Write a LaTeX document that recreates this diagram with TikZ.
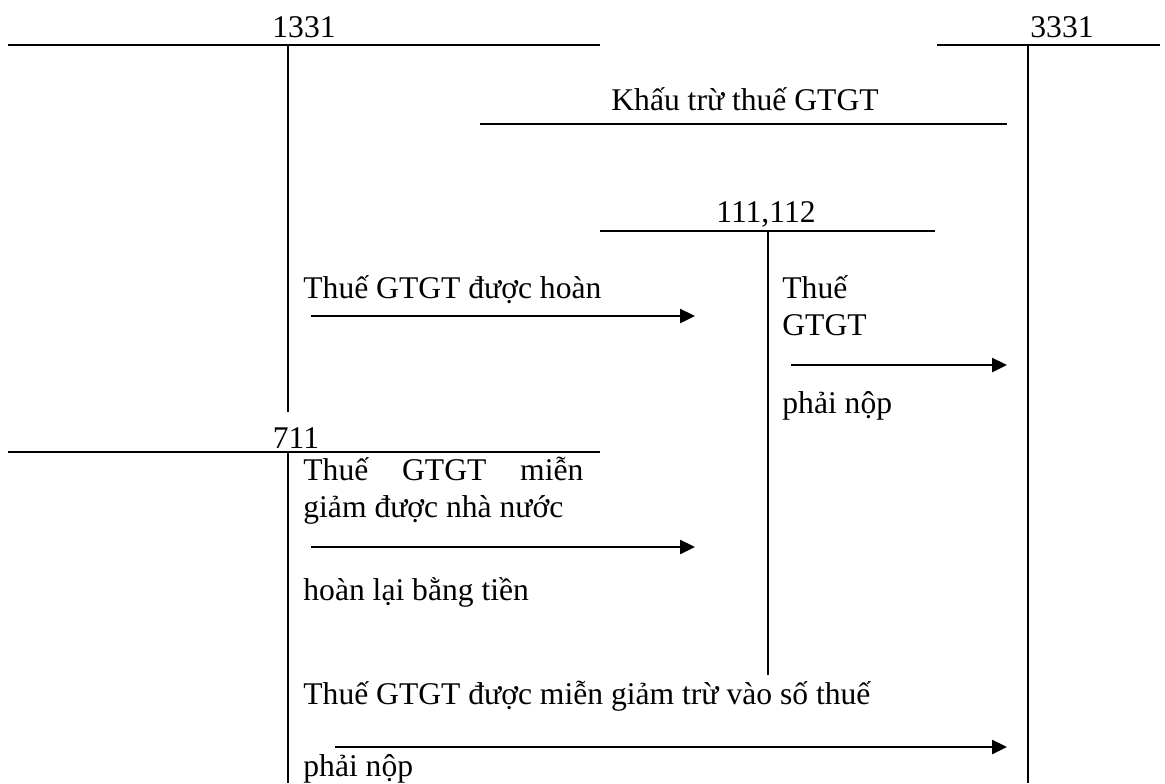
\documentclass[tikz,border=0pt]{standalone}
\usepackage{fontspec}
\setmainfont{Liberation Serif}
\usetikzlibrary{positioning,arrows.meta}

\begin{document}
\begin{tikzpicture}[x=0.5pt, y=-0.5pt, >={Triangle[length=7.5pt,width=7pt]},
  acct/.style={line width=1pt},
  flow/.style={->, line width=1.2pt},
  txt/.style={anchor=base west, inner sep=0pt, font=\fontsize{15.8}{18.5}\selectfont},
  lbl/.style={anchor=base, inner sep=0pt, font=\fontsize{15.8}{18.5}\selectfont}]
\useasboundingbox (0,0) rectangle (1165,783);

% tai khoan
\coordinate (tl1331) at (8,45);   \coordinate (tr1331) at (600,45);
\coordinate (t1331) at (288,45);  \coordinate (b1331) at (288,412);
\coordinate (tl3331) at (937,45); \coordinate (tr3331) at (1160,45);
\coordinate (t3331) at (1028,45); \coordinate (b3331) at (1028,783);
\coordinate (tl111) at (600,231); \coordinate (tr111) at (935,231);
\coordinate (t111) at (768,231);  \coordinate (b111) at (768,675);
\coordinate (tl711) at (8,452);   \coordinate (tr711) at (600,452);
\coordinate (t711) at (288,452);  \coordinate (b711) at (288,783);

\node[lbl] (n1331) at (304,37) {1331};
\node[lbl] (n3331) at (1062,37) {3331};
\node[lbl] (n111) at (766,222) {111,112};
\node[lbl] (n711) at (296,448) {711};

\draw[acct] (tl1331) -- (tr1331) (t1331) -- (b1331);
\draw[acct] (tl3331) -- (tr3331) (t3331) -- (b3331);
\draw[acct] (tl111) -- (tr111) (t111) -- (b111);
\draw[acct] (tl711) -- (tr711) (t711) -- (b711);

% khau tru
\node[lbl] (ktru) at (745,110) {Khấu trừ thuế GTGT};
\coordinate (ks) at (480,124); \coordinate (ke) at (1007,124);
\draw[acct, line width=1.2pt] (ks) -- (ke);

% duoc hoan
\node[txt] (hoan) at (303,298) {Thuế GTGT được hoàn};
\coordinate (hs) at (311,316); \coordinate (he) at (695,316);
\draw[flow] (hs) -- (he);

% phai nop
\node[txt] (nop1) at (782,298) {Thuế};
\node[txt] (nop2) at (782,335) {GTGT};
\node[txt] (nop3) at (782,413) {phải nộp};
\coordinate (ps) at (791,365); \coordinate (pe) at (1007,365);
\draw[flow] (ps) -- (pe);

% mien giam hoan lai
\node[txt] (mg1) at (303,480) {\makebox[140pt][s]{Thuế GTGT miễn}};
\node[txt] (mg2) at (303,517) {giảm được nhà nước};
\node[txt] (mg3) at (303,600) {hoàn lại bằng tiền};
\coordinate (ms) at (311,547); \coordinate (me) at (695,547);
\draw[flow] (ms) -- (me);

% mien giam tru
\node[txt] (tru1) at (303,704) {Thuế GTGT được miễn giảm trừ vào số thuế};
\node[txt] (tru2) at (303,776) {phải nộp};
\coordinate (ts) at (335,747); \coordinate (te) at (1007,747);
\draw[flow] (ts) -- (te);
\end{tikzpicture}
\end{document}
